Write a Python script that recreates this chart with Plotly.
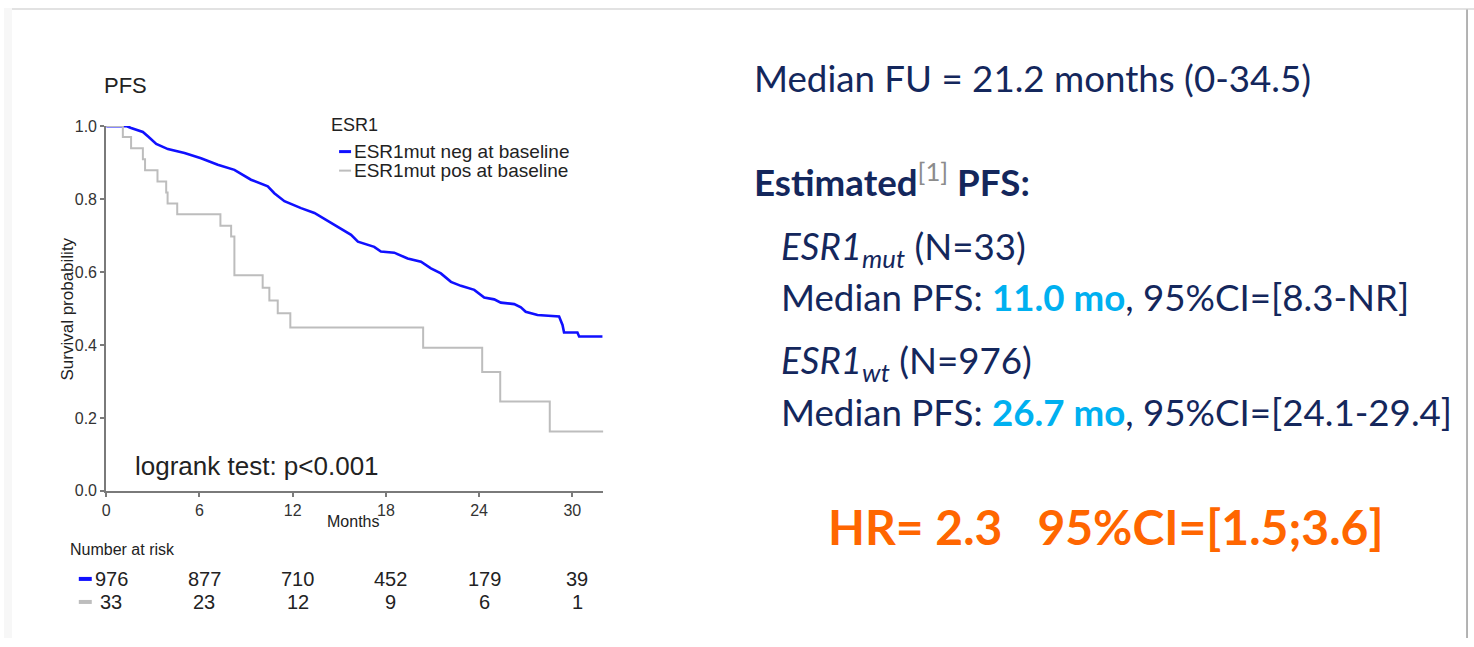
import plotly.graph_objects as go

W, H = 1474, 647

# ---- data ----
wt_months = [0, 1.29, 1.6, 2.36, 2.68, 3.22, 3.97, 5.04, 6.1, 7.18, 8.25, 9.32, 10.4, 10.82, 11.47,
             12.54, 13.4, 14.68, 15.76, 16.2, 17.25, 17.68, 18.54, 19.4, 20.26, 20.9, 21.54, 22.19,
             22.83, 23.69, 24.33, 24.97, 25.4, 26.26, 26.69, 27.0, 27.76, 29.15, 29.37, 29.47,
             30.33, 30.44, 31.94]
wt_surv = [1.0, 1.0, 0.995, 0.984, 0.972, 0.951, 0.937, 0.926, 0.912, 0.894, 0.880, 0.853, 0.835,
           0.816, 0.794, 0.775, 0.762, 0.730, 0.702, 0.683, 0.669, 0.656, 0.653, 0.637, 0.628,
           0.610, 0.596, 0.573, 0.562, 0.551, 0.530, 0.525, 0.516, 0.512, 0.503, 0.491, 0.482,
           0.478, 0.455, 0.434, 0.434, 0.423, 0.423]

mut_months = [0, 1.07, 1.6, 2.36, 2.5, 3.3, 3.86, 3.95, 4.57, 7.35, 8.04, 8.25, 10.07, 10.5,
              11.04, 11.85, 20.4, 24.2, 25.36, 28.55, 32.0]
mut_surv = [1.0, 0.970, 0.939, 0.909, 0.879, 0.848, 0.818, 0.788, 0.758, 0.727, 0.697, 0.591,
            0.557, 0.522, 0.487, 0.448, 0.392, 0.326, 0.245, 0.163, 0.163]

risk_times = [0, 6, 12, 18, 24, 30]
risk_wt = [976, 877, 710, 452, 179, 39]
risk_mut = [33, 23, 12, 9, 6, 1]

x_ticks = [0, 6, 12, 18, 24, 30]
y_ticks = [0.0, 0.2, 0.4, 0.6, 0.8, 1.0]
y_ticklabels = ["0.0", "0.2", "0.4", "0.6", "0.8", "1.0"]

BLUE = "#1010ff"
GREY = "#bdbdbd"
NAVY = "#14275c"
CYAN = "#00b0f0"
ORANGE = "#ff6600"
AXC = "#7a7a7a"
TXT = "#333333"
ARIAL = "Liberation Sans, Arial, sans-serif"
RFONT = "Lato, Open Sans, sans-serif"

# pixel -> paper conversion (with a small correction for how the page is captured)
X_OFF = 2.0
Y_OFF, Y_SCALE = 8.5, 0.973


def px(x):
    return (x - X_OFF) / W


def py(y):
    return 1 - ((y - Y_OFF) / Y_SCALE) / H


fig = go.Figure()
fig.add_trace(go.Scatter(x=wt_months, y=wt_surv, mode="lines", name="ESR1mut neg at baseline",
                         line=dict(color=BLUE, width=2.6), showlegend=False))
fig.add_trace(go.Scatter(x=mut_months, y=mut_surv, mode="lines", name="ESR1mut pos at baseline",
                         line=dict(color=GREY, width=2, shape="hv"), showlegend=False))

fig.update_layout(
    autosize=True,
    margin=dict(l=0, r=0, t=0, b=0),
    paper_bgcolor="white", plot_bgcolor="rgba(0,0,0,0)",
    xaxis=dict(domain=[px(104.5), px(603)], range=[0, 32], tickvals=x_ticks,
               showgrid=False, zeroline=False, showline=True, linecolor=AXC, linewidth=2,
               ticks="outside", ticklen=4, tickcolor=AXC, tickwidth=1.5,
               tickfont=dict(family=ARIAL, size=16, color=TXT), fixedrange=True),
    yaxis=dict(domain=[py(491), py(126.5)], range=[0, 1], tickvals=y_ticks, ticktext=y_ticklabels,
               showgrid=False, zeroline=False, showline=True, linecolor=AXC, linewidth=2,
               ticks="outside", ticklen=4, tickcolor=AXC, tickwidth=1.5,
               tickfont=dict(family=ARIAL, size=16, color=TXT), fixedrange=True),
)

shapes = []
# slide frame
shapes.append(dict(type="rect", xref="paper", yref="paper", x0=0, x1=1, y0=py(9), y1=1,
                   fillcolor="#f2f2f2", line=dict(width=0), layer="below"))
shapes.append(dict(type="line", xref="paper", yref="paper", x0=px(10), x1=1, y0=py(9.5), y1=py(9.5),
                   line=dict(color="#e2e2e2", width=2)))
shapes.append(dict(type="rect", xref="paper", yref="paper", x0=0, x1=px(10), y0=0, y1=1,
                   fillcolor="#f7f7f7", line=dict(width=0), layer="below"))
shapes.append(dict(type="line", xref="paper", yref="paper", x0=px(1469), x1=px(1469), y0=0, y1=py(10),
                   line=dict(color="#9a9a9a", width=1.5)))
# legend keys
shapes.append(dict(type="line", xref="paper", yref="paper", x0=px(338), x1=px(350), y0=py(152), y1=py(152),
                   line=dict(color=BLUE, width=3)))
shapes.append(dict(type="line", xref="paper", yref="paper", x0=px(338), x1=px(350), y0=py(171), y1=py(171),
                   line=dict(color=GREY, width=2)))
# risk table keys
shapes.append(dict(type="line", xref="paper", yref="paper", x0=px(77), x1=px(90), y0=py(579), y1=py(579),
                   line=dict(color=BLUE, width=4)))
shapes.append(dict(type="line", xref="paper", yref="paper", x0=px(77), x1=px(90), y0=py(602), y1=py(602),
                   line=dict(color=GREY, width=4)))
fig.update_layout(shapes=shapes)

ann = []


def txt(x, y, s, size, color=TXT, family=ARIAL, xanchor="left", angle=0, xref="paper", xshift=0):
    ann.append(dict(x=x, y=y, xref=xref, yref="paper", text=s, showarrow=False, xanchor=xanchor,
                    yanchor="middle", textangle=angle, xshift=xshift,
                    font=dict(family=family, size=size, color=color)))


# left chart texts
txt(px(100), py(86), "PFS", 22, "#222222")
txt(px(328), py(125), "ESR1", 18, "#222222")
txt(px(351), py(152), "ESR1mut neg at baseline", 19, "#222222")
txt(px(351), py(171), "ESR1mut pos at baseline", 19, "#222222")
txt(px(66), py(309), "Survival probability", 17, "#222222", xanchor="center", angle=-90)
txt(px(352), py(522), "Months", 16, "#222222", xanchor="center")
txt(px(131), py(466), "logrank test: p<0.001", 26, "#222222")
txt(px(66), py(550), "Number at risk", 16, "#222222")
for t, a, b in zip(risk_times, risk_wt, risk_mut):
    txt(t, py(579), str(a), 20, "#222222", xanchor="center", xref="x", xshift=5)
    txt(t, py(602), str(b), 20, "#222222", xanchor="center", xref="x", xshift=5)

# right panel texts
txt(px(752), py(78), "Median FU = 21.2 months (0-34.5)", 36.7, NAVY, RFONT)
txt(px(752), py(180), "<b>Estimated</b><sup><span style='color:#8c8c8c'>[1]</span></sup><b> PFS:</b>",
    36.7, NAVY, RFONT)
txt(px(779), py(249), "<i>ESR1<sub>mut</sub></i> (N=33)", 36.7, NAVY, RFONT)
txt(px(779), py(297), "Median PFS: <b><span style='color:%s'>11.0 mo</span></b>, 95%%CI=[8.3-NR]" % CYAN,
    36.7, NAVY, RFONT)
txt(px(779), py(363), "<i>ESR1<sub>wt</sub></i> (N=976)", 36.7, NAVY, RFONT)
txt(px(779), py(412), "Median PFS: <b><span style='color:%s'>26.7 mo</span></b>, 95%%CI=[24.1-29.4]" % CYAN,
    36.7, NAVY, RFONT)
txt(px(1107), py(527), "<b>HR= 2.3   95%CI=[1.5;3.6]</b>", 48, ORANGE, RFONT, xanchor="center")

fig.update_layout(annotations=ann)
fig.write_html(
    "out.html",
    config={"displayModeBar": False, "responsive": True},
    default_width="100vw",
    default_height="100vh",
    post_script=(
        "document.documentElement.style.margin='0';document.documentElement.style.padding='0';"
        "document.documentElement.style.overflow='hidden';"
        "document.body.style.margin='0';document.body.style.padding='0';"
        "document.body.style.overflow='hidden';"
        "var d=document.getElementById('{plot_id}');"
        "d.style.position='fixed';d.style.left='0px';d.style.top='0px';"
        "d.style.width='100vw';d.style.height='100vh';"
        "Plotly.Plots.resize(d);"
    ),
)
